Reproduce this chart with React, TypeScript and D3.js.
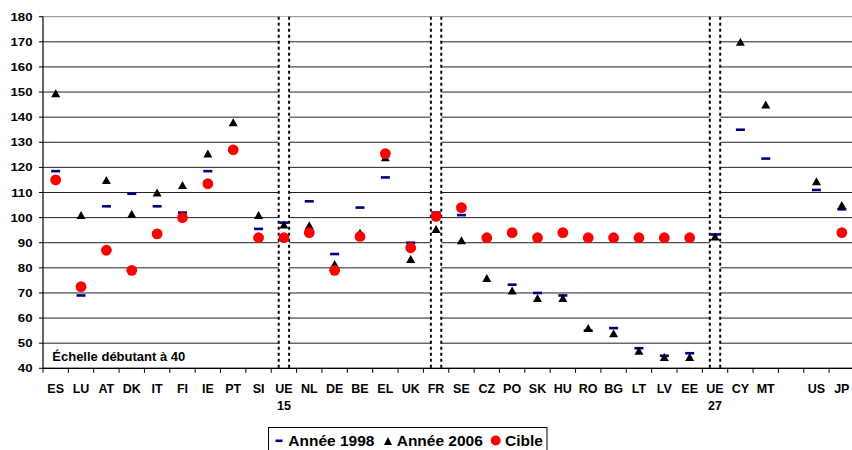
import React from "react";
import * as d3 from "d3";

const categories = ["ES","LU","AT","DK","IT","FI","IE","PT","SI","UE 15","NL","DE","BE","EL","UK","FR","SE","CZ","PO","SK","HU","RO","BG","LT","LV","EE","UE 27","CY","MT","","US","JP"];

const annee1998: (number | null)[] = [118.5,69,104.5,109.5,104.5,102,118.5,null,95.5,98,106.5,85.5,104,116,90,102,101,null,73.3,70,69,55,56,48,45,46,93.3,135,123.5,null,111,103.3];

const annee2006: (number | null)[] = [149.5,101,115,101.5,110,113,125.5,138,101,97.3,97,81.5,94,124,83.5,95.5,91,76,71,68,68,56,54,47,44.5,44.5,92.5,170,145,null,114.5,105];

const cible: (number | null)[] = [115,72.5,87,79,93.5,100,113.5,127,92,92,94,79,92.5,125.5,88,100.5,104,92,94,92,94,92,92,92,92,92,null,null,null,null,null,94];

const separators = ["UE 15","FR","UE 27"];

const yTicks = [40,50,60,70,80,90,100,110,120,130,140,150,160,170,180];

const legendLabels = ["Année 1998","Année 2006","Cible"];
const scaleNote = "Échelle débutant à 40";

const FONT = "'Liberation Sans', Arial, sans-serif";

export default function App() {
  const W = 852, H = 450;
  const left = 43, right = 854.5, top = 16.7, bottom = 368.3;
  const x = d3.scaleBand<string>().domain(categories).range([left, right]).padding(0);
  const y = d3.scaleLinear().domain([40, 180]).range([bottom, top]);
  const cx = (c: string) => (x(c) as number) + x.bandwidth() / 2;
  const tri = (px: number, py: number, hw = 4.5, hh = 4) =>
    `M${px},${py - hh}L${px + hw},${py + hh}L${px - hw},${py + hh}Z`;

  return (
    <div style={{ position: "absolute", left: 0, top: 0 }}>
      <svg width={W} height={H} style={{ display: "block", background: "#fff" }} fontFamily={FONT}>
        {/* gridlines */}
        {yTicks.map((t) => (
          <line key={"g" + t} x1={left} x2={right} y1={y(t)} y2={y(t)} stroke={t === 180 ? "#888" : "#222"} strokeWidth={1} />
        ))}
        {/* y axis */}
        <line x1={left} x2={left} y1={top} y2={bottom} stroke="#000" strokeWidth={1.2} />
        {yTicks.map((t) => (
          <g key={"yt" + t}>
            <line x1={left - 4} x2={left} y1={y(t)} y2={y(t)} stroke="#000" />
            <text
              transform={`translate(32.5,${y(t) + 4}) scale(1.2,1)`}
              textAnchor="end"
              fontSize={11}
              fontWeight="bold"
              fill="#000"
            >
              {t}
            </text>
          </g>
        ))}
        {/* separators */}
        {separators.map((s) => {
          const c = cx(s);
          return (
            <g key={"sep" + s}>
              <rect x={c - 5.2} y={top} width={10.4} height={bottom - top - 1} fill="#fff" />
              <line x1={c - 5.2} x2={c - 5.2} y1={top} y2={bottom} stroke="#000" strokeWidth={2} strokeDasharray="3,3" />
              <line x1={c + 5.2} x2={c + 5.2} y1={top} y2={bottom} stroke="#000" strokeWidth={2} strokeDasharray="3,3" />
            </g>
          );
        })}
        {/* x axis */}
        <line x1={left} x2={right} y1={bottom} y2={bottom} stroke="#000" strokeWidth={1.2} />
        {d3.range(categories.length + 1).map((i) => {
          const px = left + i * x.step();
          return <line key={"xt" + i} x1={px} x2={px} y1={bottom} y2={bottom + 4.5} stroke="#000" />;
        })}
        {categories.map((c) => {
          const parts = c.split(" ");
          return (
            <text key={"xl" + c} x={cx(c)} y={393} textAnchor="middle" fontSize={12.5} fontWeight="bold" fill="#000">
              {parts.map((p, i) => (
                <tspan key={i} x={cx(c)} dy={i === 0 ? 0 : 17}>{p}</tspan>
              ))}
            </text>
          );
        })}
        {/* scale note */}
        <text x={52.3} y={361} fontSize={13} fontWeight="bold" fill="#000">{scaleNote}</text>
        {/* 1998 dashes */}
        {categories.map((c, i) =>
          annee1998[i] == null ? null : (
            <rect key={"a" + i} x={cx(c) - 4.5} y={y(annee1998[i] as number) - 1.3} width={9} height={2.6} fill="#000080" />
          )
        )}
        {/* 2006 triangles */}
        {categories.map((c, i) =>
          annee2006[i] == null ? null : (
            <path key={"b" + i} d={tri(cx(c), y(annee2006[i] as number))} fill="#000" />
          )
        )}
        {/* cible circles */}
        {categories.map((c, i) =>
          cible[i] == null ? null : (
            <circle key={"c" + i} cx={cx(c)} cy={y(cible[i] as number)} r={5.4} fill="#ff0000" />
          )
        )}
        {/* legend */}
        <rect x={268.5} y={427.5} width={278.5} height={30} fill="#fff" stroke="#000" strokeWidth={1} />
        <rect x={275.5} y={439.5} width={7} height={2.6} fill="#000080" />
        <text x={288.3} y={445.5} fontSize={15.5} fontWeight="bold" fill="#000">{legendLabels[0]}</text>
        <path d={tri(388, 441, 4, 4)} fill="#000" />
        <text x={396.7} y={445.5} fontSize={15.5} fontWeight="bold" fill="#000">{legendLabels[1]}</text>
        <circle cx={495.7} cy={440.5} r={5} fill="#ff0000" />
        <text x={505} y={445.5} fontSize={15.5} fontWeight="bold" fill="#000">{legendLabels[2]}</text>
      </svg>
    </div>
  );
}
